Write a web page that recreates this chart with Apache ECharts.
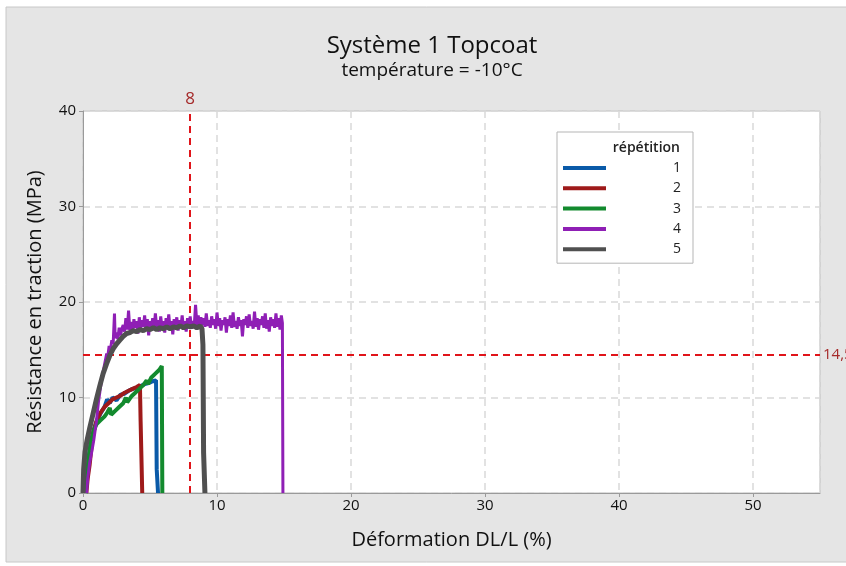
<!DOCTYPE html>
<html><head><meta charset="utf-8">
<script src="https://cdn.jsdelivr.net/npm/echarts@6/dist/echarts.min.js"></script>
<style>html,body{margin:0;padding:0;background:#fff}#c{width:846px;height:566px}</style>
</head><body><div id="c"></div>
<script>
const titleText = "Système 1 Topcoat";
const subtitleText = "température = -10°C";
const xAxisName = "Déformation DL/L (%)";
const yAxisName = "Résistance en traction (MPa)";
const legendTitle = "répétition";
const seriesNames = ["1", "2", "3", "4", "5"];
const refX = 8;
const refY = 14.5;

const rep1 = [[0.2,0],[0.3,2],[0.45,4],[0.6,5.5],[0.8,6.6],[1.0,7.4],[1.3,8.3],[1.6,9.0],[1.8,9.8],[2.0,9.4],[2.2,10.0],[2.5,9.7],[2.8,10.3],[3.1,10.4],[3.4,10.7],[3.7,10.9],[4.0,11.0],[4.3,11.2],[4.6,11.4],[4.9,11.5],[5.2,11.7],[5.45,11.8],[5.5,2.5],[5.6,0]];
const rep2 = [[0.25,0],[0.35,1.5],[0.5,3.0],[0.65,5],[0.8,6.5],[1.0,7.5],[1.3,8.4],[1.6,9.0],[1.9,9.4],[2.2,9.8],[2.5,10.0],[2.8,10.2],[3.1,10.5],[3.4,10.7],[3.7,10.9],[4.0,11.1],[4.25,11.3],[4.3,7.5],[4.35,7.3],[4.42,0]];
const rep3 = [[0.2,0],[0.3,2],[0.45,4],[0.6,5.5],[0.8,6.5],[1.0,7.2],[1.3,7.6],[1.6,8.0],[1.8,8.4],[2.0,8.9],[2.1,8.2],[2.4,8.6],[2.7,9.0],[3.0,9.4],[3.2,10.0],[3.3,9.5],[3.6,10.1],[3.9,10.5],[4.2,10.9],[4.5,11.3],[4.75,11.8],[4.85,11.4],[5.1,12.1],[5.4,12.5],[5.7,12.9],[5.88,13.3],[5.92,0]];
const rep4 = [[0.27,0],[0.35,1.5],[0.5,3.2],[0.65,4.3],[0.8,5.5],[1.0,7.5],[1.15,9.5],[1.3,11.0],[1.45,12.3],[1.6,13.4],[1.77,14.6],[1.85,14.3],[1.95,15.4],[2.05,15.0],[2.15,16.0],[2.25,15.6],[2.35,18.8],[2.4,16.2],[2.5,16.8],[2.6,16.1],[2.7,17.3],[2.8,16.5],[2.9,17.2],[3.0,17.6],[3.1,16.9],[3.2,18.3],[3.3,17.1],[3.4,19.1],[3.5,17.0],[3.6,17.9],[3.7,16.8],[3.8,18.2],[3.9,17.3],[4.0,18.0],[4.1,16.7],[4.2,18.4],[4.3,17.2],[4.4,18.1],[4.5,17.4],[4.6,18.6],[4.7,17.0],[4.8,18.2],[4.9,16.5],[5.0,18.0],[5.1,17.3],[5.2,18.3],[5.3,17.1],[5.4,18.8],[5.5,17.4],[5.6,18.1],[5.7,16.9],[5.8,18.5],[5.9,17.3],[6.0,18.0],[6.1,16.8],[6.2,18.3],[6.3,17.4],[6.4,18.7],[6.5,17.2],[6.6,18.0],[6.7,16.6],[6.8,18.2],[6.9,17.5],[7.0,18.4],[7.1,17.0],[7.2,18.1],[7.3,17.3],[7.4,18.6],[7.5,17.2],[7.6,18.0],[7.7,16.9],[7.8,18.3],[7.9,17.4],[8.0,18.5],[8.1,17.2],[8.2,18.0],[8.3,17.5],[8.4,19.7],[8.5,17.6],[8.6,18.6],[8.7,17.3],[8.8,18.4],[8.9,17.6],[9.0,18.3],[9.1,17.4],[9.2,18.8],[9.3,17.5],[9.4,18.1],[9.5,17.3],[9.6,18.5],[9.7,17.6],[9.8,18.2],[9.9,17.2],[10.0,18.9],[10.1,17.5],[10.2,18.3],[10.3,17.0],[10.4,18.1],[10.5,17.6],[10.6,18.4],[10.7,16.8],[10.8,18.2],[10.9,17.5],[11.0,18.6],[11.1,17.3],[11.2,18.9],[11.3,17.4],[11.4,18.0],[11.5,17.2],[11.6,18.4],[11.7,17.5],[11.8,18.1],[11.9,16.4],[12.0,18.2],[12.1,17.6],[12.2,18.5],[12.3,17.3],[12.4,18.7],[12.5,17.5],[12.6,18.0],[12.7,17.2],[12.8,19.0],[12.9,17.4],[13.0,18.3],[13.1,17.1],[13.2,18.2],[13.3,17.6],[13.4,18.5],[13.5,17.3],[13.6,18.8],[13.7,17.2],[13.8,18.1],[13.9,16.9],[14.0,18.4],[14.1,17.5],[14.2,18.2],[14.3,17.3],[14.4,18.8],[14.5,17.4],[14.6,18.3],[14.7,17.1],[14.8,18.6],[14.88,17.8],[14.92,0]];
const rep5 = [[0,0],[0.05,2.5],[0.15,4.3],[0.3,5.5],[0.5,6.8],[0.75,8.3],[1.0,9.8],[1.25,11.2],[1.5,12.5],[1.75,13.5],[2.0,14.4],[2.25,15.1],[2.5,15.6],[2.75,16.0],[3.0,16.4],[3.25,16.7],[3.5,16.8],[3.75,17.0],[4.0,16.9],[4.25,17.1],[4.5,17.0],[4.75,17.2],[5.0,17.1],[5.25,17.3],[5.5,17.1],[5.75,17.3],[6.0,17.2],[6.25,17.4],[6.5,17.2],[6.75,17.4],[7.0,17.3],[7.25,17.5],[7.5,17.3],[7.75,17.5],[8.0,17.4],[8.25,17.5],[8.5,17.3],[8.75,17.5],[8.88,17.2],[8.95,15.5],[9.0,4.2],[9.1,0]];

const seriesData = [rep1, rep2, rep3, rep4, rep5];
const colors = ["#0a5aa8", "#9e1a1a", "#138a2e", "#8f1fb5", "#505050"];
const widths = [4, 4, 4, 3, 5];
const FONT = "'Open Sans', 'Noto Sans', sans-serif";

const chart = echarts.init(document.getElementById('c'), null, {renderer: 'canvas'});

const series = seriesData.map((d, i) => ({
  name: seriesNames[i],
  type: 'line',
  data: d,
  showSymbol: false,
  symbol: 'none',
  lineStyle: {width: widths[i], color: colors[i]},
  itemStyle: {color: colors[i]},
  z: 3 + i
}));

series.push({
  name: 'ref',
  type: 'line',
  data: [],
  silent: true,
  markLine: {
    symbol: 'none',
    silent: true,
    animation: false,
    lineStyle: {color: '#e0141a', type: [7, 5], width: 2},
    data: [
      {xAxis: refX, label: {show: true, position: 'end', formatter: String(refX), color: '#a52a2a', fontSize: 17, fontFamily: FONT, distance: 3}},
      {yAxis: refY, label: {show: true, position: 'end', formatter: String(refY).replace('.', ','), color: '#a52a2a', fontSize: 15, fontFamily: FONT, distance: 3}}
    ]
  }
});

chart.setOption({
  animation: false,
  backgroundColor: '#ffffff',
  color: colors,
  graphic: [
    {type: 'rect', z: -10, shape: {x: 6, y: 7, width: 860, height: 555}, style: {fill: '#e5e5e5', stroke: '#c8c8c8', lineWidth: 1}},
    {type: 'text', z: 100, x: 432, y: 46, style: {text: titleText, font: '500 24px ' + FONT, fill: '#111', textAlign: 'center', textVerticalAlign: 'middle'}},
    {type: 'text', z: 100, x: 432, y: 71, style: {text: subtitleText, font: '19px ' + FONT, fill: '#111', textAlign: 'center', textVerticalAlign: 'middle'}},
    {type: 'text', z: 100, x: 680, y: 148, style: {text: legendTitle, font: '600 14px ' + FONT, fill: '#222', textAlign: 'right', textVerticalAlign: 'middle'}}
  ],
  grid: {left: 83, top: 111, right: 26, bottom: 73, show: true, backgroundColor: '#ffffff', borderColor: '#bdbdbd', borderWidth: 1},
  legend: {
    data: seriesNames,
    orient: 'vertical',
    left: 557, top: 132,
    padding: [28, 12, 6, 6],
    itemGap: 4.3,
    itemWidth: 43, itemHeight: 4,
    icon: 'rect',
    backgroundColor: '#ffffff',
    borderColor: '#b5b5b5', borderWidth: 1,
    formatter: function (n) { return '{a|' + n + '}'; },
    textStyle: {fontFamily: FONT, fontSize: 14, color: '#222', lineHeight: 16,
      rich: {a: {width: 70, align: 'right', fontFamily: FONT, fontSize: 14, color: '#222', lineHeight: 16}}}
  },
  xAxis: {
    type: 'value', min: 0, max: 55, interval: 10,
    name: xAxisName, nameLocation: 'middle', nameGap: 37,
    nameTextStyle: {fontFamily: FONT, fontSize: 20, color: '#111'},
    axisLine: {show: true, lineStyle: {color: '#9a9a9a', width: 1}},
    axisTick: {show: true, length: 4, lineStyle: {color: '#9a9a9a'}},
    axisLabel: {fontFamily: FONT, fontSize: 15, color: '#111', margin: 5, showMaxLabel: false},
    splitLine: {show: true, lineStyle: {color: '#d9d9d9', type: [7, 5], width: 1.5}}
  },
  yAxis: {
    type: 'value', min: 0, max: 40, interval: 10,
    name: yAxisName, nameLocation: 'middle', nameGap: 38,
    nameTextStyle: {fontFamily: FONT, fontSize: 20, color: '#111'},
    axisLine: {show: true, lineStyle: {color: '#9a9a9a', width: 1}},
    axisTick: {show: true, length: 4, lineStyle: {color: '#9a9a9a'}},
    axisLabel: {fontFamily: FONT, fontSize: 15, color: '#111', margin: 7},
    splitLine: {show: true, lineStyle: {color: '#d9d9d9', type: [7, 5], width: 1.5}}
  },
  series: series
});
</script>
</body></html>
